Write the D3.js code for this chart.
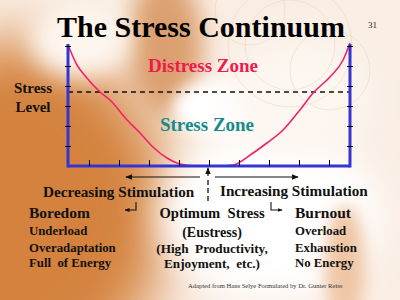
<!DOCTYPE html>
<html><head><meta charset="utf-8">
<script src="https://cdn.jsdelivr.net/npm/d3@7"></script>
<style>html,body{margin:0;padding:0;background:#fff;}svg{display:block;}</style>
</head><body><svg id="c" width="400" height="300"></svg>
<script>
// ---- data ----
const curveX = [-4.7,-4.4,-4.07,-3.63,-3.3,-2.73,-2.3,-1.87,-1.4,-1.07,-0.73,-0.3,0.3,0.8,1.47,1.93,2.47,3.03,3.47,4.03,4.47,4.7];
const curveY = [6.05,5.05,4.4,3.7,3.3,2.3,1.65,0.95,0.4,0.15,0.04,0,0,0.05,0.65,1.15,1.8,2.8,3.65,4.45,5.3,6.15];
const xTicks = [-4,-3,-2,-1,0,1,2,3,4];
const yTicks = [1,2,3,4,5,6];
const stressLevel = [3.7];
const title = ["The Stress Continuum"];
const zoneLabels = ["Distress Zone","Stress Zone"];
const leftBlock = ["Boredom","Underload","Overadaptation","Full  of Energy"];
const midBlock = ["Optimum  Stress","(Eustress)","(High  Productivity,","Enjoyment,  etc.)"];
const rightBlock = ["Burnout","Overload","Exhaustion","No Energy"];
const stimLabels = ["Decreasing Stimulation","Increasing Stimulation"];

const svg = d3.select("#c");
const W=400,H=300;
const serif = "'Liberation Serif','Times New Roman',serif";

// ---- background ----
const defs = svg.append("defs");
[["b30",30],["b18",18],["b12",12],["b8",8]].forEach(([id,s])=>{
  defs.append("filter").attr("id",id).attr("x","-50%").attr("y","-50%").attr("width","200%").attr("height","200%")
    .append("feGaussianBlur").attr("stdDeviation",s);
});
const bg = svg.append("g");
bg.append("rect").attr("width",W).attr("height",H).attr("fill","#faeee4");
bg.append("ellipse").attr("cx",20).attr("cy",210).attr("rx",150).attr("ry",170).attr("fill","#d4823e").attr("filter","url(#b30)");
bg.append("ellipse").attr("cx",165).attr("cy",45).attr("rx",38).attr("ry",70).attr("fill","#dca070").attr("filter","url(#b12)");
bg.append("ellipse").attr("cx",80).attr("cy",40).attr("rx",50).attr("ry",38).attr("fill","#fdf6ef").attr("filter","url(#b12)");
bg.append("ellipse").attr("cx",215).attr("cy",108).attr("rx",42).attr("ry",28).attr("fill","#ffffff").attr("filter","url(#b8)");
bg.append("ellipse").attr("cx",270).attr("cy",215).attr("rx",110).attr("ry",85).attr("fill","#ffffff").attr("filter","url(#b18)");
bg.append("ellipse").attr("cx",300).attr("cy",100).attr("rx",70).attr("ry",60).attr("fill","#fdf7f1").attr("filter","url(#b18)");
bg.append("ellipse").attr("cx",345).attr("cy",265).attr("rx",20).attr("ry",60).attr("fill","#efc6a4").attr("filter","url(#b8)");
[[290,45,45],[290,45,62],[330,70,40],[250,10,35]].forEach(([cx,cy,r])=>{
  bg.append("circle").attr("cx",cx).attr("cy",cy).attr("r",r).attr("fill","none").attr("stroke","#e6c4a6").attr("stroke-width",1).attr("opacity",0.35);
});

// ---- scales ----
const x = d3.scaleLinear().domain([-4.7,4.7]).range([68,350]);
const y = d3.scaleLinear().domain([0,6.1]).range([166,44]);

// title
svg.append("text").text(title[0]).attr("x",201).attr("y",37).attr("text-anchor","middle")
  .attr("font-family",serif).attr("font-weight","bold").attr("font-size",30).attr("fill","#000").style("white-space","pre");
svg.append("text").text("31").attr("x",368).attr("y",28).attr("font-family",serif).attr("font-size",9).attr("fill","#222");

// dashed stress level
svg.append("line").attr("x1",x.range()[0]).attr("x2",x.range()[1]).attr("y1",y(stressLevel[0])).attr("y2",y(stressLevel[0]))
  .attr("stroke","#111").attr("stroke-width",1.3).attr("stroke-dasharray","5,4");

// curve
const pts = curveX.map((v,i)=>[v,curveY[i]]);
svg.append("path").datum(pts).attr("fill","none").attr("stroke","#f5206a").attr("stroke-width",1.6)
  .attr("d",d3.line().x(d=>x(d[0])).y(d=>y(d[1])).curve(d3.curveMonotoneX));

// axes lines
const axC="#3535d6";
svg.append("line").attr("x1",x.range()[0]).attr("x2",x.range()[0]).attr("y1",y.range()[1]).attr("y2",y.range()[0]+1.5).attr("stroke",axC).attr("stroke-width",3);
svg.append("line").attr("x1",x.range()[1]).attr("x2",x.range()[1]).attr("y1",y.range()[1]).attr("y2",y.range()[0]+1.5).attr("stroke",axC).attr("stroke-width",3);
svg.append("line").attr("x1",x.range()[0]).attr("x2",x.range()[1]).attr("y1",y.range()[0]).attr("y2",y.range()[0]).attr("stroke",axC).attr("stroke-width",3);

function styleAxis(g){ g.select(".domain").remove(); g.selectAll("text").remove(); g.selectAll("line").attr("stroke","#000").attr("stroke-width",1); }
svg.append("g").attr("transform",`translate(0,${y(0)})`).call(d3.axisTop(x).tickValues(xTicks).tickSize(6)).call(styleAxis);
svg.append("g").attr("transform",`translate(${x.range()[0]-3},0)`).call(d3.axisRight(y).tickValues(yTicks).tickSize(6)).call(styleAxis);
svg.append("g").attr("transform",`translate(${x.range()[1]-3},0)`).call(d3.axisRight(y).tickValues(yTicks).tickSize(6)).call(styleAxis);

// zone labels
svg.append("text").text(zoneLabels[0]).attr("x",203).attr("y",72).attr("text-anchor","middle")
  .attr("font-family",serif).attr("font-weight","bold").attr("font-size",19).attr("fill","#ee1a50");
svg.append("text").text(zoneLabels[1]).attr("x",207).attr("y",131).attr("text-anchor","middle")
  .attr("font-family",serif).attr("font-weight","bold").attr("font-size",19).attr("fill","#178b8b");
svg.append("text").attr("font-family",serif).attr("font-weight","bold").attr("font-size",15).attr("fill","#111")
  .attr("text-anchor","middle")
  .selectAll("tspan").data(["Stress","Level"]).join("tspan").attr("x",33).attr("y",(d,i)=>[93,112][i]).text(d=>d);

// arrows
const mk = defs.append("marker").attr("id","ah").attr("viewBox","0 0 10 10").attr("refX",9).attr("refY",5)
  .attr("markerWidth",7).attr("markerHeight",7).attr("markerUnits","userSpaceOnUse").attr("orient","auto-start-reverse");
mk.append("path").attr("d","M0,1 L10,5 L0,9 Z").attr("fill","#111");
const cx0 = x(0);
svg.append("line").attr("x1",cx0-9).attr("x2",126).attr("y1",177).attr("y2",177).attr("stroke","#111").attr("stroke-width",1.2).attr("marker-end","url(#ah)");
svg.append("line").attr("x1",cx0+6).attr("x2",298).attr("y1",177).attr("y2",177).attr("stroke","#111").attr("stroke-width",1.2).attr("marker-end","url(#ah)");
svg.append("line").attr("x1",cx0-1).attr("x2",cx0-1).attr("y1",176).attr("y2",168).attr("stroke","#111").attr("stroke-width",1.2).attr("marker-end","url(#ah)");
svg.append("line").attr("x1",cx0-1).attr("x2",cx0-1).attr("y1",180).attr("y2",204).attr("stroke","#111").attr("stroke-width",1.3).attr("stroke-dasharray","5,3");
// bent arrows
const smk = defs.append("marker").attr("id","sh").attr("viewBox","0 0 10 10").attr("refX",9).attr("refY",5)
  .attr("markerWidth",5).attr("markerHeight",5).attr("markerUnits","userSpaceOnUse").attr("orient","auto");
smk.append("path").attr("d","M0,1 L10,5 L0,9 Z").attr("fill","#111");
svg.append("path").attr("d","M136,202 V210 H125").attr("fill","none").attr("stroke","#111").attr("stroke-width",1.1).attr("marker-end","url(#sh)");
svg.append("path").attr("d","M271,202 V210 H282").attr("fill","none").attr("stroke","#111").attr("stroke-width",1.1).attr("marker-end","url(#sh)");

// stimulation labels
svg.append("text").text(stimLabels[0]).attr("x",43).attr("y",197).attr("font-family",serif).attr("font-weight","bold").attr("font-size",15.2).attr("fill","#111");
svg.append("text").text(stimLabels[1]).attr("x",220).attr("y",196).attr("font-family",serif).attr("font-weight","bold").attr("font-size",15.2).attr("fill","#111");

// blocks
function block(lines, xx, anchor, sizes, ys){
  const t = svg.append("text").attr("font-family",serif).attr("font-weight","bold").attr("fill","#111").attr("text-anchor",anchor).style("white-space","pre");
  t.selectAll("tspan").data(lines).join("tspan").attr("x",xx).attr("y",(d,i)=>ys[i]).attr("font-size",(d,i)=>sizes[i]).text(d=>d);
}
block(leftBlock,29,"start",[15.5,12.8,12.8,12.8],[218,235,252,267]);
block(rightBlock,295,"start",[15.5,12.8,12.8,12.8],[218,235,252,267]);
block(midBlock,212,"middle",[14.6,14,13.2,13.2],[218,237,253,268]);

svg.append("text").text("Adapted from Hans Selye Formulated by Dr. Gunter Reiss").attr("x",188).attr("y",288)
  .attr("font-family",serif).attr("font-size",6.6).attr("fill","#333");
</script></body></html>
